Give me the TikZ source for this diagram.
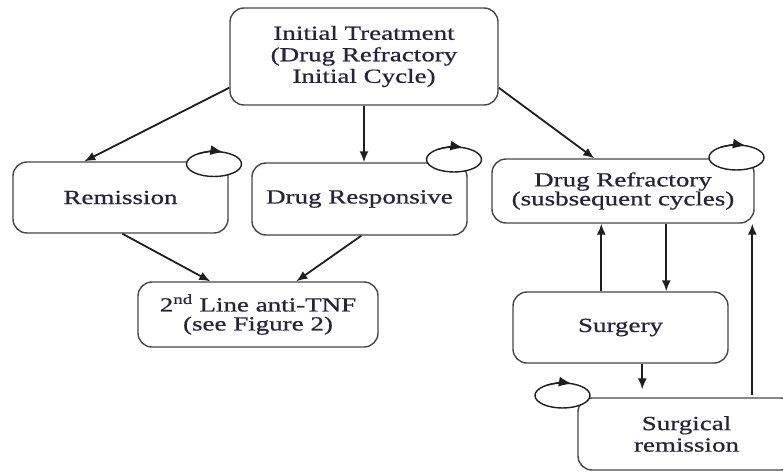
\documentclass[tikz,border=0pt]{standalone}
\usepackage{fontspec}
\setmainfont{Liberation Serif}[FakeStretch=1.35,FakeBold=0.7]
\usetikzlibrary{arrows.meta,calc,shapes.geometric}
\definecolor{txt}{RGB}{40,35,60}
\definecolor{edge}{RGB}{70,70,70}
\definecolor{arrc}{RGB}{30,30,30}
\tikzset{
  box/.style={draw=edge, line width=1.4pt, rounded corners=14pt, fill=white,
    align=center, text=txt, inner sep=0pt,
    font=\fontsize{20}{21.5}\selectfont},
  tightbox/.style={box, font=\fontsize{20}{19}\selectfont},
  arr/.style={draw=arrc, line width=1.8pt, -{Latex[length=11pt,width=9pt]}},
  loopell/.style={draw=arrc, line width=1.4pt, fill=white, ellipse,
    minimum width=55pt, minimum height=25pt, inner sep=0pt},
  looptip/.style={draw=arrc, line width=1.4pt, -{Latex[length=13pt,width=10pt]}},
}
\begin{document}
\begin{tikzpicture}[x=1pt,y=-1pt]
\useasboundingbox (0,0) rectangle (783,473);
% boxes
\node[box, minimum width=268pt, minimum height=97pt] (init) at (364,56.5)
  {Initial Treatment\\(Drug Refractory\\Initial Cycle)};
\node[box, minimum width=215pt, minimum height=71pt] (rem) at (120.5,197.5) {Remission};
\node[box, minimum width=215pt, minimum height=72pt] (resp) at (359.5,199) {Drug Responsive};
\node[tightbox, minimum width=262pt, minimum height=64pt] (refr) at (623,191)
  {Drug Refractory\\(susbsequent cycles)};
\node[tightbox, minimum width=240pt, minimum height=65pt] (second) at (258,314.5)
  {2\textsuperscript{nd} Line anti-TNF\\(see Figure 2)};
\node[box, minimum width=215pt, minimum height=71pt] (surg) at (620.5,327.5) {Surgery};
\node[box, minimum width=217pt, minimum height=72pt] (srem) at (686.5,434)
  {Surgical\\remission};
% self loops
\node[loopell] (l1) at (214,164) {};
\node[loopell] (l2) at (454,159.5) {};
\node[loopell] (l3) at (736.5,157.5) {};
\node[loopell] (l4) at (562.5,395.5) {};
\foreach \L in {l1,l2,l3,l4}{
  \draw[looptip] ($(\L)+(235:27.5 and 12.5)$) arc[start angle=235, end angle=290, x radius=27.5, y radius=12.5];
}
% connectors
\draw[arr] ($(init.south west)+(0,-18)$) -- ($(rem.north west)+(72,0)$);
\draw[arr] (init.south) -- (init.south |- resp.north);
\draw[arr] ($(init.south east)+(0,-18)$) -- ($(refr.north west)+(103,0)$);
\draw[arr] ($(rem.south west)+(110,0)$) -- ($(second.north west)+(73,0)$);
\draw[arr] ($(resp.south west)+(110,0)$) -- ($(second.north west)+(159,0)$);
\coordinate (a1) at ($(surg.north west)+(89,0)$);
\draw[arr] (a1) -- (a1 |- refr.south);
\coordinate (a2) at ($(refr.south west)+(175,0)$);
\draw[arr] (a2) -- (a2 |- surg.north);
\draw[arr] ($(surg.south west)+(130,0)$) -- ($(srem.north west)+(65,-8)$);
\coordinate (a3) at ($(srem.north west)+(175,-2)$);
\draw[arr] (a3) -- (a3 |- refr.south);
\end{tikzpicture}
\end{document}
